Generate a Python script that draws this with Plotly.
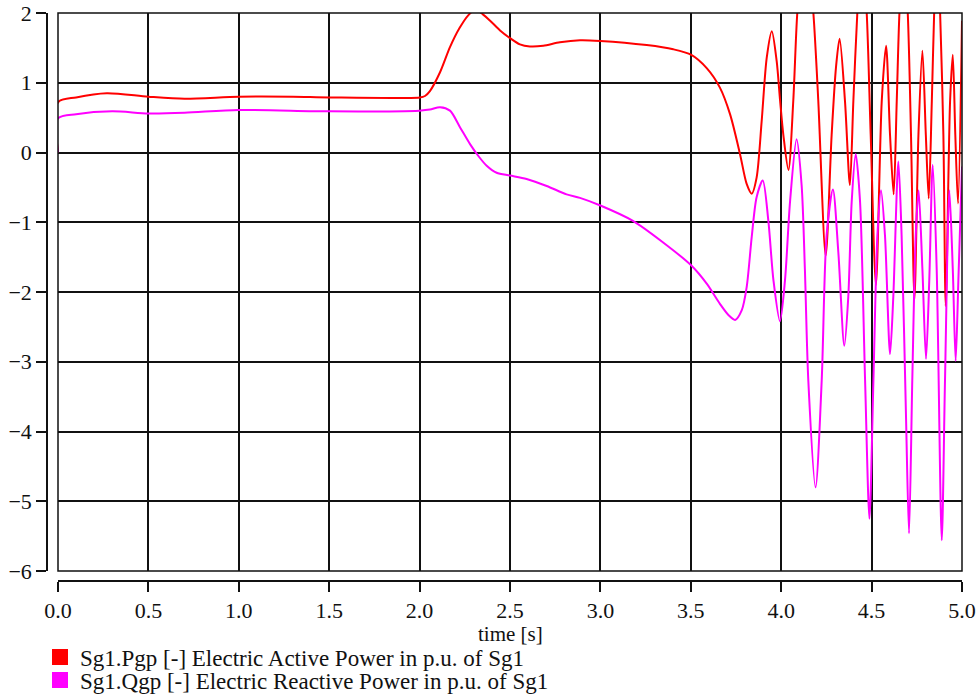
import plotly.graph_objects as go

# ---- data ----
t_p = [0.0, 0.0, 0.1, 0.27, 0.5, 0.7, 1.0, 1.3, 1.5, 2.0, 2.03, 2.057, 2.113, 2.168, 2.22, 2.27, 2.31, 2.35,
       2.39, 2.445, 2.5, 2.555, 2.61, 2.684, 2.776, 2.887, 3.0, 3.256, 3.403, 3.503, 3.588, 3.661, 3.717,
       3.772, 3.809, 3.837, 3.864, 3.892, 3.920, 3.948, 3.975, 3.994, 4.012, 4.040, 4.067, 4.089, 4.133,
       4.178, 4.205, 4.246, 4.279, 4.303, 4.323, 4.353, 4.380, 4.399, 4.421, 4.447, 4.473, 4.495, 4.524,
       4.556, 4.580, 4.602, 4.622, 4.639, 4.654, 4.677, 4.700, 4.718, 4.737, 4.759, 4.781, 4.800, 4.816,
       4.833, 4.846, 4.862, 4.879, 4.897, 4.910, 4.934, 4.949, 4.963, 4.978, 5.0]
p_val = [0.0, 0.72, 0.79, 0.85, 0.80, 0.77, 0.80, 0.80, 0.79, 0.79, 0.81, 0.88, 1.15, 1.51, 1.78, 1.97, 2.05, 1.98,
         1.89, 1.75, 1.64, 1.55, 1.52, 1.53, 1.58, 1.61, 1.60, 1.54, 1.48, 1.40, 1.21, 0.93, 0.55,
         -0.02, -0.45, -0.59, -0.36, 0.45, 1.36, 1.74, 1.31, 0.74, 0.25, -0.25, 0.75, 2.0, 3.3,
         2.0, 0.75, -1.48, 0.25, 1.22, 1.63, 0.73, -0.47, 0.73, 2.0, 3.0, 2.0, 0.25, -1.9,
         0.73, 1.53, 0.25, -0.60, 0.73, 2.0, 3.0, 2.0, 0.25, -2.1, 0.25, 1.46, 0.25, -0.66,
         0.73, 2.0, 3.0, 2.0, 0.25, -2.2, 0.73, 1.40, 0.25, -0.73, 1.89]

t_q = [0.0, 0.0, 0.1, 0.3, 0.5, 0.7, 1.0, 1.5, 2.0, 2.057, 2.113, 2.168, 2.224, 2.279, 2.325, 2.371, 2.426, 2.5,
       2.592, 2.703, 2.813, 2.887, 3.0, 3.18, 3.347, 3.503, 3.588, 3.661, 3.708, 3.745, 3.782, 3.809, 3.837,
       3.864, 3.898, 3.929, 3.957, 3.993, 4.021, 4.049, 4.085, 4.113, 4.131, 4.150, 4.190, 4.224, 4.251,
       4.286, 4.316, 4.349, 4.371, 4.390, 4.412, 4.436, 4.464, 4.488, 4.510, 4.532, 4.552, 4.574, 4.602,
       4.620, 4.648, 4.666, 4.690, 4.707, 4.725, 4.744, 4.760, 4.781, 4.801, 4.819, 4.838, 4.860, 4.888,
       4.906, 4.930, 4.949, 4.965, 4.980, 5.0]
q_val = [0.0, 0.49, 0.55, 0.59, 0.56, 0.57, 0.61, 0.59, 0.60, 0.615, 0.65, 0.60, 0.36, 0.12, -0.05, -0.19, -0.29, -0.33,
         -0.38, -0.48, -0.60, -0.65, -0.76, -0.98, -1.29, -1.62, -1.88, -2.17, -2.33, -2.40, -2.26, -1.93, -1.21,
         -0.64, -0.40, -0.98, -1.83, -2.42, -1.83, -0.7, 0.19, -0.47, -1.67, -3.27, -4.80, -3.27, -1.19,
         -0.53, -1.43, -2.77, -2.07, -0.7, -0.02, -0.7, -3.27, -5.25, -3.27, -1.19, -0.54, -1.19, -2.89,
         -2.07, -0.13, -1.19, -3.75, -5.46, -3.27, -1.19, -0.54, -1.67, -2.96, -1.83, -0.18, -1.67, -5.56,
         -3.27, -0.54, -1.67, -2.99, -1.83, -0.2]

names = ["Sg1.Pgp [-] Electric Active Power in p.u. of Sg1",
         "Sg1.Qgp [-] Electric Reactive Power in p.u. of Sg1"]
colors = ["#FF0000", "#FF00FF"]
x_ticks = [0.0, 0.5, 1.0, 1.5, 2.0, 2.5, 3.0, 3.5, 4.0, 4.5, 5.0]
y_ticks = [-6, -5, -4, -3, -2, -1, 0, 1, 2]
x_title = "time [s]"

FONT = "Liberation Serif"
FS_TICK, FS_TITLE, FS_LEG = 22, 21, 23

fig = go.Figure()
for tx, yv, c in [(t_p, p_val, colors[0]), (t_q, q_val, colors[1])]:
    fig.add_trace(go.Scatter(x=tx, y=yv, mode="lines", showlegend=False,
                             line=dict(color=c, width=2, shape="spline", smoothing=0.8)))
for n, c, lg in zip(names, colors, ["legend", "legend2"]):
    fig.add_trace(go.Scatter(x=[None], y=[None], mode="markers", name=n, legend=lg,
                             marker=dict(symbol="square", size=19, color=c, line=dict(width=0))))

W, H = 979, 695
ml, mr, mt, mb = 47, 17, 13, 114
pw, ph = W - ml - mr, H - mt - mb

leg_common = dict(xref="container", yref="container", x=40 / W, xanchor="left", yanchor="middle",
                  bgcolor="rgba(0,0,0,0)", borderwidth=0,
                  font=dict(family=FONT, size=FS_LEG, color="#111"), itemwidth=30)

fig.update_layout(
    width=W, height=H, autosize=False,
    margin=dict(l=ml, r=mr, t=mt, b=mb, pad=0, autoexpand=False),
    paper_bgcolor="white", plot_bgcolor="white",
    font=dict(family=FONT, size=FS_TICK, color="#111"),
    showlegend=True,
    legend=dict(y=1 - 657 / H, **leg_common),
    legend2=dict(y=1 - 680 / H, **leg_common),
    xaxis=dict(domain=[11 / pw, 1], anchor="free", position=0, range=[0, 5], automargin=False,
               tickvals=x_ticks, ticktext=[f"{v:.1f}" for v in x_ticks],
               ticks="outside", ticklen=10, tickwidth=1.5, tickcolor="#111",
               showline=True, linecolor="#111", linewidth=1.5,
               showgrid=True, gridcolor="#111", gridwidth=1.5, zeroline=False,
               tickfont=dict(family=FONT, size=FS_TICK)),
    yaxis=dict(domain=[10 / ph, 1], anchor="free", position=0, range=[-6, 2], automargin=False,
               tickvals=y_ticks,
               ticks="outside", ticklen=10, tickwidth=1.5, tickcolor="#111",
               showline=True, linecolor="#111", linewidth=1.5,
               showgrid=True, gridcolor="#111", gridwidth=1.5, zeroline=False,
               tickfont=dict(family=FONT, size=FS_TICK)),
    shapes=[dict(type="rect", xref="x domain", yref="y domain", x0=0, x1=1, y0=0, y1=1,
                 line=dict(color="#111", width=1.5), layer="above")],
    annotations=[dict(text=x_title, xref="x domain", x=0.5, xanchor="center",
                      yref="paper", y=-(634 - (H - mb)) / ph, yanchor="middle", showarrow=False,
                      font=dict(family=FONT, size=FS_TITLE, color="#111"))],
)

fig.write_html("out.html")
